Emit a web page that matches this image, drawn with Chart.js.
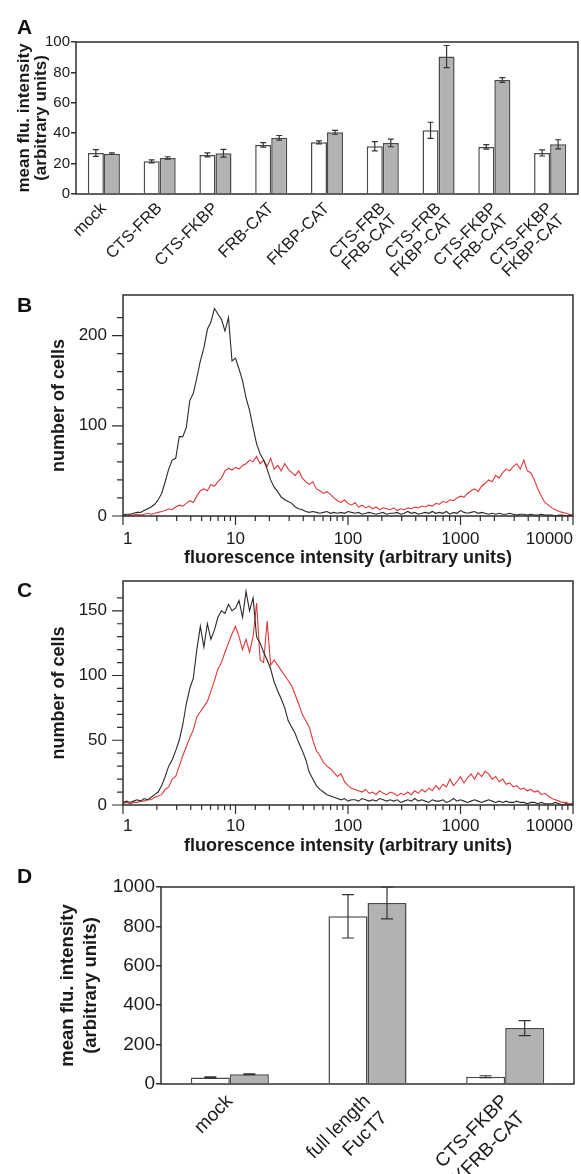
<!DOCTYPE html>
<html>
<head>
<meta charset="utf-8">
<script src="https://cdn.jsdelivr.net/npm/chart.js@4.4.1/dist/chart.umd.min.js"></script>
<style>
  html, body { margin: 0; padding: 0; background: #fff; }
  #fig { position: relative; width: 581px; height: 1174px; overflow: hidden; }
  #fig canvas { position: absolute; left: 0; }
  .tag { position: absolute; left: 17px; font: bold 21px 'Liberation Sans', Arial, sans-serif; line-height: 21px; color: #111; }
</style>
</head>
<body>
<div id="fig">
  <canvas id="chartA" width="581" height="282" style="top:0px"></canvas>
  <canvas id="chartB" width="581" height="290" style="top:282px"></canvas>
  <canvas id="chartC" width="581" height="285" style="top:572px"></canvas>
  <canvas id="chartD" width="581" height="317" style="top:857px"></canvas>
  <div class="tag" style="top:16px">A</div>
  <div class="tag" style="top:294px">B</div>
  <div class="tag" style="top:579px">C</div>
  <div class="tag" style="top:865px">D</div>
</div>
<script>
// Panel A: mean fluorescence, white = untreated, grey = treated
var groupsA = ['mock', 'CTS-FRB', 'CTS-FKBP', 'FRB-CAT', 'FKBP-CAT',
    ['CTS-FRB', 'FRB-CAT'], ['CTS-FRB', 'FKBP-CAT'], ['CTS-FKBP', 'FRB-CAT'], ['CTS-FKBP', 'FKBP-CAT']];
var whiteA    = [27, 21.5, 25.7, 32.3, 34, 31.4, 41.9, 31, 27];
var whiteErrA = [2.2, 1, 1.3, 1.5, 1, 3, 5.3, 1.5, 2];
var greyA     = [26.5, 23.7, 26.8, 37, 40.6, 33.6, 90.4, 75, 32.7];
var greyErrA  = [0.5, 0.8, 2.5, 1.5, 1.3, 2.5, 7.3, 1.5, 3];

// Panel D
var groupsD = ['mock', ['full length', 'FucT7'], ['CTS-FKBP', '3XFRB-CAT']];
var whiteD    = [33, 851, 37];
var whiteErrD = [3, 110, 5];
var greyD     = [49, 919, 284];
var greyErrD  = [2, 81, 38];

// Panels B and C: FACS histograms, 32 channels per decade from 1 to 10000
var channelsPerDecade = 32;
var blackB = [1,2,2,3,4,4,6,8,10,13, 18,25,38,52,62,64,88,88,98,128,
    136,153,172,186,207,215,230,224,218,205, 220,172,175,163,150,131,117,98,80,69,
    62,52,40,32,27,21,18,16,14,10, 8,7,5,4,5,
    4,3,4,5,3,4,3,4,3,5, 4,3,4,2,3,4,3,2,3,4, 2,3,3,4,2,3,5,3,4,2,
    3,4,3,5,3,4,3,5,2,4, 3,6,4,3,4,5,3,4,3,2, 3,2,3,2,2,3,2,1,2,2,
    1,2,1,1,2,1,1,1,0,1, 1,0,1,0];
var redB = [1,0,1,1,2,1,2,3,2,3, 4,5,6,8,7,10,12,11,14,17,
    15,22,28,30,28,35,33,38,42,50, 53,51,54,52,56,58,62,60,66,58,
    62,55,64,52,56,50,58,52,48,45, 50,42,38,35,38,30,28,25,27,24,
    20,17,15,18,14,12,15,10,12,9, 11,8,10,7,9,8,7,9,6,8,
    7,9,8,10,9,11,10,12,11,14, 13,16,15,18,17,20,22,21,25,28,
    30,27,33,36,40,38,45,42,48,52, 50,55,58,52,62,50,48,40,30,22,
    15,12,9,7,5,4,3,2,1];
var blackC = [2,3,2,3,4,3,5,4,6,8, 10,15,22,30,35,42,50,62,78,90,
    98,120,138,122,140,128,135,145,150,148, 155,150,152,158,145,165,150,160,130,125,
    118,112,105,95,88,82,75,65,60,55, 48,42,35,25,20,15,12,10,8,7, 6,
    5,4,5,3,4,4,3,5,4,3, 4,3,5,4,3,4,3,4,2,3, 4,3,5,3,4,3,2,4,3,3,
    4,2,3,5,3,4,3,2,3,4, 3,2,3,4,3,2,3,2,3,2, 2,3,2,2,1,2,2,1,2,1,
    1,1,2,1,0,1,0,1];
var redC = [1,2,1,2,2,3,3,4,4,6, 7,8,12,14,20,22,30,38,45,52,
    58,68,72,76,80,88,96,105,110,118, 125,132,138,130,120,128,118,130,156,112,
    110,142,108,112,108,104,100,96,92,85, 78,70,65,60,50,42,38,33,30,28,
    25,22,24,18,15,13,12,11,10,12, 9,10,8,11,9,8,10,9,7,9,
    8,10,8,11,9,12,10,13,11,15, 12,16,14,20,15,18,22,17,21,24,
    20,25,22,26,24,20,22,18,20,16, 17,14,15,12,13,11,12,10,11,8,
    9,7,5,4,3,2,2,1,1];

var FONT = "'Liberation Sans', Arial, sans-serif";
var textColor = '#1a1a1a';
var axisColor = '#2e2e2e';
Chart.defaults.font.family = FONT;
Chart.defaults.color = textColor;

// full rectangle round the plot area
var frameBox = {
    id: 'frameBox',
    afterDatasetsDraw: function (chart) {
        var a = chart.chartArea, ctx = chart.ctx;
        ctx.save();
        ctx.strokeStyle = axisColor;
        ctx.lineWidth = 1.5;
        ctx.strokeRect(a.left, a.top, a.right - a.left, a.bottom - a.top);
        ctx.restore();
    }
};

// error bars from dataset.errors
var errorBars = {
    id: 'errorBars',
    afterDatasetsDraw: function (chart, args, opts) {
        var ctx = chart.ctx, y = chart.scales.y;
        ctx.save();
        ctx.strokeStyle = '#333';
        ctx.lineWidth = 1.2;
        chart.data.datasets.forEach(function (ds, di) {
            if (!ds.errors) return;
            chart.getDatasetMeta(di).data.forEach(function (bar, i) {
                var top = y.getPixelForValue(ds.data[i] + ds.errors[i]);
                var bot = y.getPixelForValue(ds.data[i] - ds.errors[i]);
                ctx.beginPath();
                ctx.moveTo(bar.x, top); ctx.lineTo(bar.x, bot);
                ctx.moveTo(bar.x - opts.cap, top); ctx.lineTo(bar.x + opts.cap, top);
                ctx.moveTo(bar.x - opts.cap, bot); ctx.lineTo(bar.x + opts.cap, bot);
                ctx.stroke();
            });
        });
        ctx.restore();
    }
};

// major/minor tick marks for the histogram axes
var histTicks = {
    id: 'histTicks',
    afterDraw: function (chart, args, opts) {
        var ctx = chart.ctx, a = chart.chartArea, x = chart.scales.x, y = chart.scales.y;
        ctx.save();
        ctx.strokeStyle = axisColor;
        ctx.lineWidth = 1.2;
        ctx.beginPath();
        x.ticks.forEach(function (t) {
            var lg = Math.log10(t.value);
            var len = Math.abs(lg - Math.round(lg)) < 1e-6 ? 9 : 5;
            var px = x.getPixelForValue(t.value);
            ctx.moveTo(px, a.bottom); ctx.lineTo(px, a.bottom + len);
        });
        y.ticks.forEach(function (t) {
            if (t.value % opts.step !== 0) return;
            var len = t.value % opts.major === 0 ? 11 : 6;
            var py = y.getPixelForValue(t.value);
            ctx.moveTo(a.left, py); ctx.lineTo(a.left - len, py);
        });
        ctx.stroke();
        ctx.restore();
    }
};

/*
 * bar chart with white/grey pairs and error bars
 */
function BuildBarChart(canvasId, labels, white, whiteErr, grey, greyErr, s) {
    var ctx = document.getElementById(canvasId).getContext('2d');
    return new Chart(ctx, {
        type: 'bar',
        data: {
            labels: labels,
            datasets: [{
                data: white, errors: whiteErr,
                backgroundColor: '#ffffff', borderColor: '#4a4a4a', borderWidth: 1.5,
                categoryPercentage: s.catPct, barPercentage: 1
            }, {
                data: grey, errors: greyErr,
                backgroundColor: '#b2b2b2', borderColor: '#4a4a4a', borderWidth: 1.5,
                categoryPercentage: s.catPct, barPercentage: 1
            }]
        },
        options: {
            responsive: false,
            animation: false,
            devicePixelRatio: 1,
            layout: { padding: { top: s.top, right: s.right, left: 0, bottom: 0 } },
            plugins: {
                legend: { display: false },
                tooltip: { enabled: false },
                errorBars: { cap: s.cap }
            },
            scales: {
                x: {
                    grid: { display: false, drawTicks: false },
                    border: { display: false },
                    ticks: { autoSkip: false, minRotation: 45, maxRotation: 45, padding: s.xPad,
                        font: { size: s.xFont, lineHeight: s.xLH }, color: textColor },
                    afterFit: function (sc) { sc.height = s.xHeight; sc.paddingLeft = 0; sc.paddingRight = 0; }
                },
                y: {
                    min: 0, max: s.yMax,
                    grid: { display: true, drawOnChartArea: false, drawTicks: true, tickLength: 5,
                        color: axisColor, tickColor: axisColor, lineWidth: 1.5 },
                    border: { display: false },
                    ticks: { stepSize: s.yStep, padding: 1, font: { size: s.yFont }, color: textColor,
                        callback: function (v) { return String(v); } },
                    title: { display: true, text: ['mean flu. intensity', '(arbitrary units)'],
                        font: { size: s.titleFont, weight: 'bold', lineHeight: s.titleLH },
                        padding: { top: s.titlePad, bottom: 0 }, color: textColor },
                    afterFit: function (sc) { sc.width = s.yWidth; sc.paddingTop = 0; sc.paddingBottom = 0; }
                }
            }
        },
        plugins: [frameBox, errorBars]
    });
}

/*
 * histogram overlay on a log axis
 */
function BuildHistogram(canvasId, black, red, s) {
    var pts = function (arr) {
        return arr.map(function (v, i) { return { x: Math.pow(10, i / channelsPerDecade), y: v }; });
    };
    var ctx = document.getElementById(canvasId).getContext('2d');
    return new Chart(ctx, {
        type: 'line',
        data: {
            datasets: [{
                data: pts(black), borderColor: '#2a2a2a', borderWidth: 1.1,
                pointRadius: 0, tension: 0, fill: false
            }, {
                data: pts(red), borderColor: '#e0383a', borderWidth: 1.1,
                pointRadius: 0, tension: 0, fill: false
            }]
        },
        options: {
            responsive: false,
            animation: false,
            devicePixelRatio: 1,
            layout: { padding: { top: s.top, right: s.right, left: 0, bottom: 0 } },
            plugins: {
                legend: { display: false },
                tooltip: { enabled: false },
                histTicks: { step: s.yStep, major: s.yMajor }
            },
            scales: {
                x: {
                    type: 'logarithmic', min: 1, max: 10000,
                    grid: { display: false, drawTicks: false },
                    border: { display: false },
                    ticks: {
                        autoSkip: false, maxRotation: 0, align: 'inner', padding: s.xPad,
                        font: { size: 17 }, color: textColor,
                        callback: function (v) {
                            var lg = Math.log10(v);
                            return Math.abs(lg - Math.round(lg)) < 1e-6 ? String(v) : '';
                        }
                    },
                    title: { display: true, text: 'fluorescence intensity (arbitrary units)',
                        font: { size: 18, weight: 'bold' }, padding: { top: 0, bottom: s.xTitlePad }, color: textColor },
                    afterFit: function (sc) { sc.height = s.xHeight; sc.paddingLeft = 0; sc.paddingRight = 0; }
                },
                y: {
                    min: 0, max: s.yMax,
                    grid: { display: false, drawTicks: false },
                    border: { display: false },
                    ticks: {
                        autoSkip: false, stepSize: s.yStep, padding: 16, font: { size: 17 }, color: textColor,
                        callback: function (v) { return v % s.yMajor === 0 ? String(v) : ''; }
                    },
                    title: { display: true, text: 'number of cells',
                        font: { size: 18, weight: 'bold' }, padding: { top: 48, bottom: 0 }, color: textColor },
                    afterFit: function (sc) { sc.width = 123; sc.paddingTop = 0; sc.paddingBottom = 0; }
                }
            }
        },
        plugins: [frameBox, histTicks]
    });
}

BuildBarChart('chartA', groupsA, whiteA, whiteErrA, greyA, greyErrA, {
    catPct: 0.575, top: 42, right: 3, xHeight: 88, xPad: 6, xFont: 16.5, xLH: 1.0,
    yMax: 100, yStep: 20, yFont: 15, yWidth: 76,
    titleFont: 17, titleLH: 1.05, titlePad: 15, cap: 3
});

BuildHistogram('chartB', blackB, redB, {
    top: 13, right: 8, xHeight: 56, xPad: 13, xTitlePad: 3, yMax: 245, yStep: 20, yMajor: 100
});

BuildHistogram('chartC', blackC, redC, {
    top: 9, right: 8, xHeight: 52, xPad: 11, xTitlePad: 0, yMax: 173, yStep: 10, yMajor: 50
});

BuildBarChart('chartD', groupsD, whiteD, whiteErrD, greyD, greyErrD, {
    catPct: 0.567, top: 30, right: 7, xHeight: 90, xPad: 6, xFont: 19, xLH: 1.25,
    yMax: 1000, yStep: 200, yFont: 19, yWidth: 161,
    titleFont: 18.5, titleLH: 1.25, titlePad: 56, cap: 6
});
</script>
</body>
</html>
